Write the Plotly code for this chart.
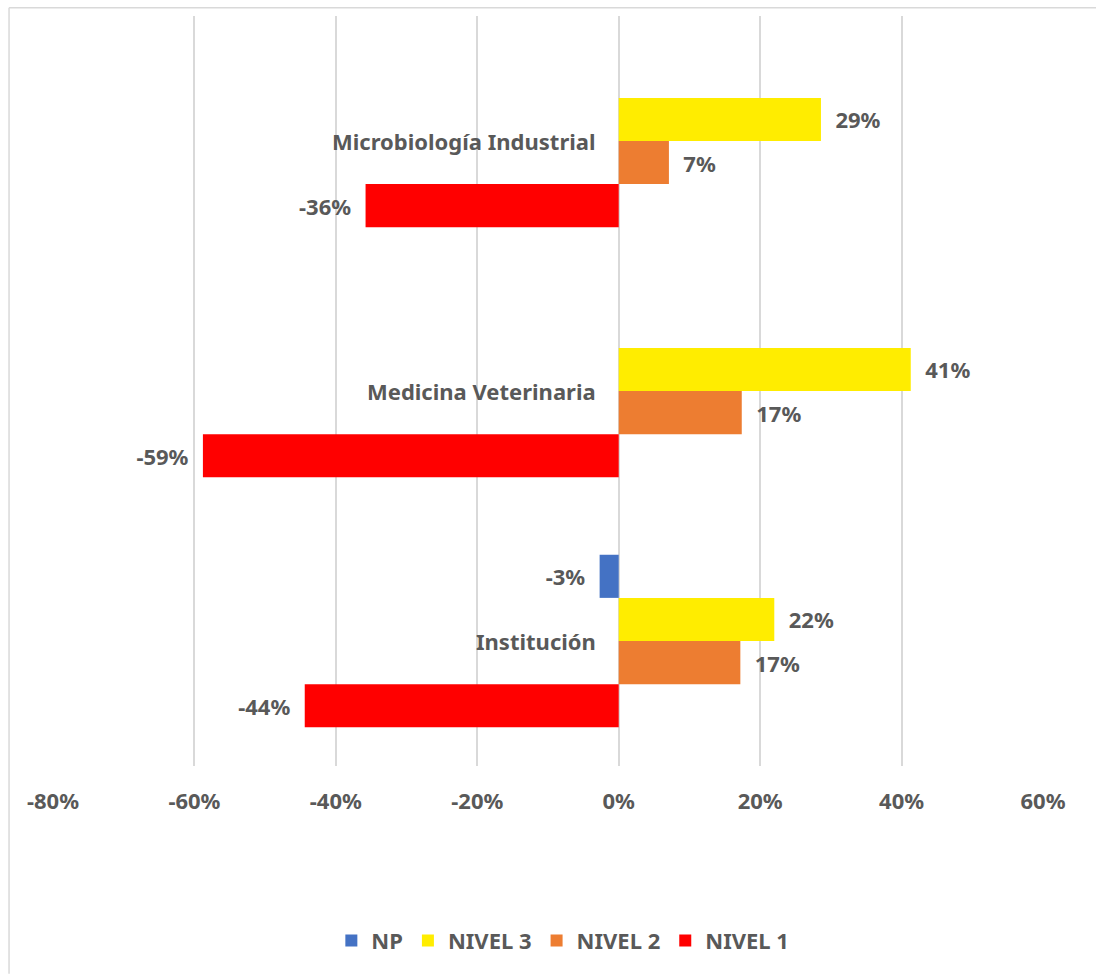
import plotly.graph_objects as go

categories = ["Institución", "Medicina Veterinaria", "Microbiología Industrial"]
series_names = ["NP", "NIVEL 3", "NIVEL 2", "NIVEL 1"]
np_vals = [-0.027, None, None]
nivel3_vals = [0.220, 0.413, 0.286]
nivel2_vals = [0.172, 0.174, 0.071]
nivel1_vals = [-0.444, -0.588, -0.358]
colors = {"NP": "#4472C4", "NIVEL 3": "#FFED00", "NIVEL 2": "#ED7D31", "NIVEL 1": "#FF0000"}
x_ticks = [-0.8, -0.6, -0.4, -0.2, 0, 0.2, 0.4, 0.6]
x_tick_labels = ["-80%", "-60%", "-40%", "-20%", "0%", "20%", "40%", "60%"]

values = {"NP": np_vals, "NIVEL 3": nivel3_vals, "NIVEL 2": nivel2_vals, "NIVEL 1": nivel1_vals}

TXT = "#595959"
FONT = "Noto Sans"
NB = "\u00a0"


def label(v):
    if v is None:
        return ""
    s = f"{round(v * 100):d}%"
    return s + NB * 2 if v < 0 else NB * 2 + s


fig = go.Figure()
# plotly stacks horizontal groups bottom-up, so add in reverse to get NP at top
for rank, name in reversed(list(enumerate(series_names))):
    vals = values[name]
    fig.add_trace(go.Bar(
        name=name,
        y=categories,
        x=vals,
        orientation="h",
        marker=dict(color=colors[name], line=dict(width=0)),
        text=[label(v) for v in vals],
        textposition="outside",
        textfont=dict(family=FONT, size=22, color=TXT, weight="bold"),
        cliponaxis=False,
        legendrank=rank,
        hoverinfo="x+name",
    ))

for c in categories:
    fig.add_annotation(
        x=0, y=c, xref="x", yref="y", text=c, showarrow=False,
        xanchor="right", yanchor="middle", xshift=-21,
        font=dict(family=FONT, size=22, color=TXT, weight="bold"),
    )

# chart border (left and top edges)
fig.add_shape(type="line", xref="paper", yref="paper", x0=-0.0444, x1=-0.0444, y0=-0.277, y1=1.011,
              line=dict(color="#D9D9D9", width=1.5))
fig.add_shape(type="line", xref="paper", yref="paper", x0=-0.0444, x1=1.06, y0=1.011, y1=1.011,
              line=dict(color="#D9D9D9", width=1.5))

fig.update_layout(
    width=1096, height=974,
    margin=dict(l=53, r=53, t=16, b=208),
    paper_bgcolor="white", plot_bgcolor="white",
    barmode="group", bargap=0.31, bargroupgap=0,
    font=dict(family=FONT, color=TXT),
    showlegend=True,
    legend=dict(
        orientation="h", x=0.515, xanchor="center", y=-0.233, yanchor="middle",
        font=dict(family=FONT, size=22, color=TXT, weight="bold"),
        traceorder="normal", itemwidth=30,
    ),
    xaxis=dict(
        range=[-0.8, 0.6], tickvals=x_ticks, ticktext=x_tick_labels,
        showgrid=True, gridcolor="#D9D9D9", gridwidth=1.5,
        zeroline=False, showline=False, ticks="",
        tickfont=dict(family=FONT, size=22, color=TXT, weight="bold"),
        ticklabelstandoff=20,
    ),
    yaxis=dict(
        categoryorder="array", categoryarray=categories,
        showticklabels=False, showgrid=False, zeroline=False, showline=False, ticks="",
    ),
)

fig.write_html(
    "out.html",
    config={"displayModeBar": False},
    post_script="document.body.style.margin='0';document.body.style.overflow='hidden';",
)
